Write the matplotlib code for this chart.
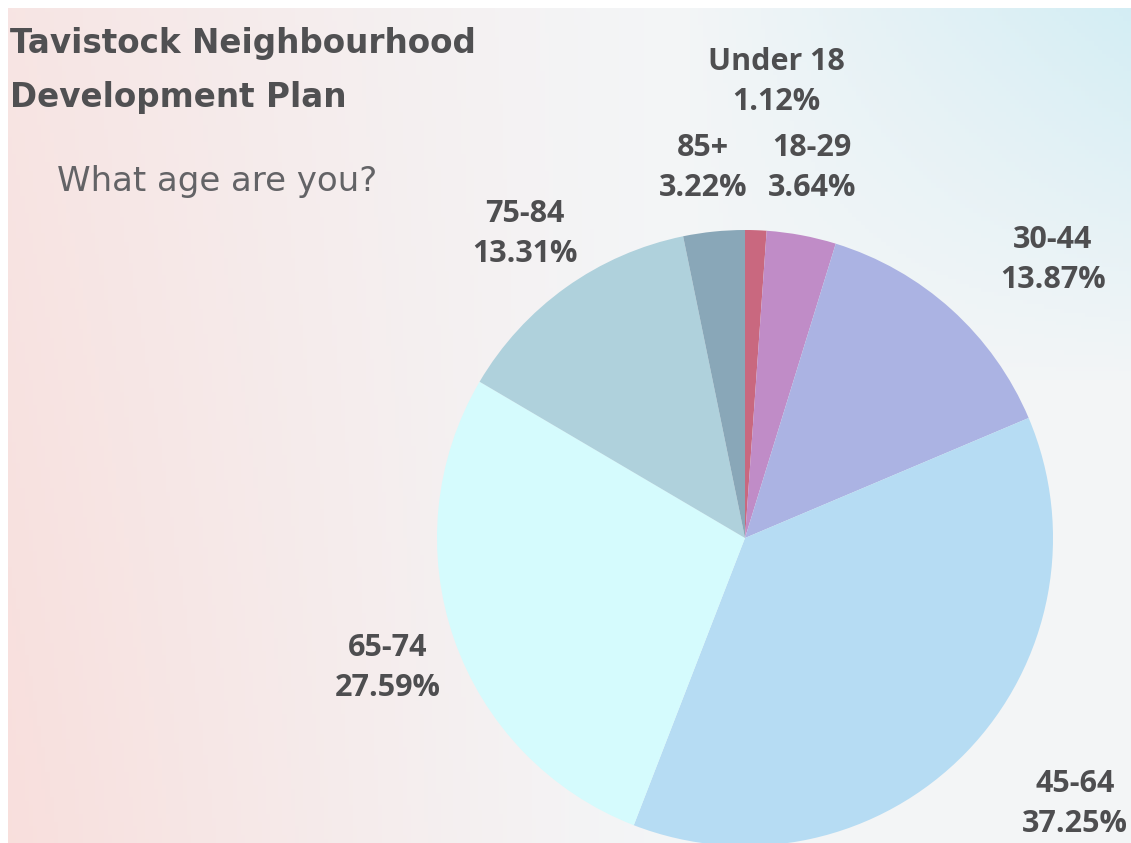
import numpy as np
import matplotlib.pyplot as plt

# data
ages = ['Under 18', '18-29', '30-44', '45-64', '65-74', '75-84', '85+']
shares = [1.12, 3.64, 13.87, 37.25, 27.59, 13.31, 3.22]
colours = ['#c9687f', '#c08cc7', '#abb3e3', '#b6dcf3', '#d5fbfd', '#afd1dc', '#89a7b8']

# label centres in pixels (x, y from top)
label_pos = [(776, 82), (812, 168), (1053, 260), (1075, 804),
             (388, 668), (525, 234), (703, 168)]

W, H = 1131, 843
fig = plt.figure(figsize=(W / 100, H / 100), dpi=100)
fig.patch.set_facecolor('white')
ax = fig.add_axes([0, 0, 1, 1])
ax.set_xlim(0, W)
ax.set_ylim(0, H)
ax.axis('off')

# soft watercolour-ish background: pink to the left, blue to the top right
yy, xx = np.mgrid[0:1:200j, 0:1:270j]
base = np.array([0.955, 0.962, 0.968])
pink = np.array([0.975, 0.87, 0.86])
blue = np.array([0.80, 0.925, 0.955])
wp = np.clip(1.0 - xx * 1.7, 0, 1) ** 1.2 * 0.7 + np.clip(0.55 - xx, 0, 1) * 0.45 * yy
wp = np.clip(wp, 0, 1)
wb = np.clip((xx - 0.6) / 0.4, 0, 1) * np.clip(1 - yy * 2.2, 0, 1) * 0.8
img = base[None, None, :] * (1 - wp - wb)[..., None] + pink * wp[..., None] + blue * wb[..., None]
ax.imshow(img, extent=[8, W, 0, H - 8], origin='upper', aspect='auto', zorder=0)

cx, cy, r = 745, H - 538, 308
ax.pie(shares, colors=colours, startangle=90, counterclock=False,
       center=(cx, cy), radius=r, frame=True,
       wedgeprops=dict(linewidth=0, zorder=2))
ax.set_xlim(0, W)
ax.set_ylim(0, H)
ax.set_aspect('auto')
ax.axis('off')

lab_font = dict(family=['Open Sans', 'DejaVu Sans'], fontweight='bold',
                fontsize=22, color='#4e4e50', ha='center', va='center')
for age, share, (lx, ly) in zip(ages, shares, label_pos):
    ax.text(lx, H - ly, '{}\n{:.2f}%'.format(age, share), linespacing=1.4, **lab_font)

ax.text(10, H - 43, 'Tavistock Neighbourhood', family='DejaVu Sans',
        fontweight='bold', fontsize=23.5, color='#505052', ha='left', va='center')
ax.text(10, H - 98, 'Development Plan', family='DejaVu Sans',
        fontweight='bold', fontsize=23.5, color='#505052', ha='left', va='center')
ax.text(57, H - 182, 'What age are you?', family='DejaVu Sans',
        fontsize=24.5, color='#636366', ha='left', va='center')

fig.savefig('out.png', dpi=100)
